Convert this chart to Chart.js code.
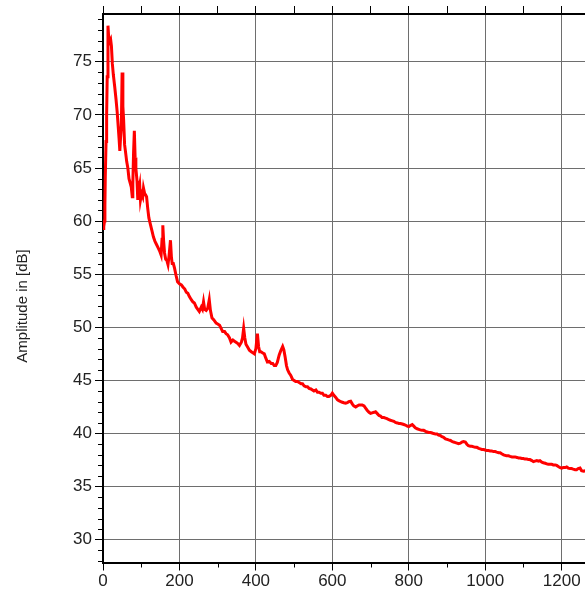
<!DOCTYPE html>
<html>
<head>
<meta charset="utf-8">
<script src="https://cdn.jsdelivr.net/npm/chart.js@4.4.1/dist/chart.umd.min.js"></script>
<style>
  html, body { margin: 0; padding: 0; background: #fff; overflow: hidden; }
  #wrap { width: 585px; height: 592px; position: relative; }
</style>
</head>
<body>
<div id="wrap"><canvas id="spectrum"></canvas></div>
<script>
// spectrum: frequency and amplitude in dB
var freq = [
  0, 2, 4, 5, 6, 8, 9.5, 11, 13, 15, 17.5, 20, 22, 24.5, 27, 30.5, 34, 37, 40, 42,
  44, 46, 48, 50, 52, 54, 56.5, 59, 62, 65, 68, 71, 74, 76.5, 78, 80, 82, 84, 86, 89,
  91, 94, 96, 98, 101, 104, 106, 109, 111, 114, 117, 120, 124, 128, 132, 136, 140, 144, 148, 152,
  154.5, 156.5, 158.5, 161, 164, 167, 170, 173, 176.5, 179, 181, 184, 187, 191, 195, 200, 205, 209, 214, 218,
  222, 226, 231, 235, 239, 244, 248, 252, 257, 260, 263, 266, 270, 274, 278, 281, 285, 290, 296, 301,
  305, 309, 313, 318, 322, 326, 331, 335, 340, 344, 348, 352, 357, 362, 365, 368, 371, 374, 379, 383,
  388, 392, 396, 400, 402, 404, 407, 410, 413, 417, 422, 426, 430, 435, 440, 444, 448, 452, 456, 461,
  465, 470, 473, 476.5, 480, 483, 487, 491, 496, 500, 504, 509, 513, 518, 522, 526, 531, 535, 539, 544,
  548, 552, 557, 561, 565, 570, 574, 578, 583, 587, 591, 596, 600, 604, 609, 613, 617, 622, 626, 630,
  635, 639, 643, 648, 652, 656, 661, 665, 670, 674, 678, 683, 687, 691, 696, 700, 704, 709, 713, 717,
  722, 726, 730, 735, 739, 743, 748, 752, 757, 761, 765, 770, 774, 778, 783, 787, 791, 796, 800, 804,
  809, 813, 817, 822, 826, 830, 835, 839, 844, 848, 852, 857, 861, 865, 870, 874, 878, 883, 887, 891,
  896, 900, 904, 909, 913, 917, 922, 926, 930, 935, 939, 943, 948, 952, 956, 961, 965, 970, 974, 978,
  983, 987, 991, 996, 1000, 1004, 1009, 1013, 1017, 1022, 1026, 1030, 1035, 1039, 1043, 1048, 1052, 1056, 1061, 1065,
  1070, 1074, 1078, 1083, 1087, 1091, 1096, 1100, 1104, 1109, 1113, 1117, 1122, 1126, 1130, 1135, 1139, 1143, 1148, 1152,
  1157, 1161, 1165, 1170, 1174, 1178, 1183, 1187, 1191, 1196, 1200, 1204, 1209, 1213, 1217, 1222, 1226, 1230, 1235, 1239,
  1243, 1248, 1252, 1257, 1262
];
var amplitude = [
  59.3, 59.5, 60.0, 61.5, 64.2, 67.5, 70.0, 73.6, 78.4, 77.2, 76.9, 77.1, 76.5, 74.8, 73.8, 72.7, 71.5, 70.3, 68.8, 67.8,
  66.6, 67.9, 69.0, 74.0, 70.8, 69.5, 67.2, 66.5, 65.6, 65.0, 64.0, 63.6, 63.2, 62.3, 63.5, 66.5, 68.5, 66.0, 65.0, 63.8,
  62.0, 63.0, 63.4, 62.0, 62.6, 62.3, 63.1, 62.6, 62.5, 62.3, 61.2, 60.3, 59.7, 59.1, 58.5, 58.1, 57.8, 57.5, 57.2, 56.8,
  58.3, 59.6, 58.2, 57.0, 56.4, 56.3, 55.9, 56.8, 58.2, 56.6, 56.0, 56.0, 55.6, 54.9, 54.3, 54.1, 54.0, 53.8, 53.6, 53.3,
  53.2, 52.9, 52.6, 52.4, 52.3, 51.9, 51.7, 51.5, 51.9, 51.7, 52.4, 51.7, 51.6, 51.8, 52.6, 51.6, 50.9, 50.7, 50.4, 50.3,
  50.2, 49.9, 49.6, 49.6, 49.4, 49.3, 49.0, 48.6, 48.8, 48.7, 48.6, 48.5, 48.3, 48.6, 49.0, 49.9, 49.0, 48.4, 48.1, 47.85,
  47.7, 47.6, 47.5, 48.0, 48.7, 49.4, 48.2, 47.7, 47.7, 47.6, 47.5, 47.1, 46.75, 46.8, 46.6, 46.6, 46.4, 46.4, 46.7, 47.4,
  47.8, 48.2, 47.9, 47.2, 46.4, 46.0, 45.7, 45.5, 45.1, 45.0, 44.9, 44.9, 44.8, 44.7, 44.7, 44.5, 44.4, 44.4, 44.25, 44.2,
  44.1, 44.0, 44.1, 43.9, 43.9, 43.8, 43.8, 43.6, 43.6, 43.5, 43.5, 43.6, 43.8, 43.6, 43.4, 43.2, 43.1, 43.0, 42.95, 42.9,
  42.85, 42.9, 43.0, 43.05, 42.8, 42.6, 42.5, 42.6, 42.7, 42.7, 42.7, 42.6, 42.4, 42.2, 42.0, 41.9, 41.95, 42.0, 42.05, 41.9,
  41.7, 41.65, 41.5, 41.5, 41.45, 41.4, 41.3, 41.25, 41.2, 41.15, 41.05, 41.0, 40.95, 40.95, 40.9, 40.85, 40.8, 40.7, 40.65, 40.75,
  40.85, 40.7, 40.55, 40.45, 40.4, 40.35, 40.3, 40.3, 40.2, 40.15, 40.1, 40.1, 40.05, 40.0, 39.95, 39.95, 39.85, 39.8, 39.7, 39.65,
  39.5, 39.45, 39.4, 39.35, 39.25, 39.2, 39.15, 39.1, 39.05, 39.1, 39.2, 39.25, 39.2, 39.0, 38.85, 38.8, 38.8, 38.75, 38.7, 38.7,
  38.6, 38.55, 38.5, 38.5, 38.45, 38.4, 38.4, 38.35, 38.35, 38.3, 38.3, 38.25, 38.2, 38.2, 38.1, 38.0, 37.95, 37.9, 37.9, 37.85,
  37.8, 37.8, 37.8, 37.75, 37.7, 37.7, 37.65, 37.65, 37.6, 37.6, 37.55, 37.55, 37.45, 37.35, 37.4, 37.45, 37.4, 37.45, 37.3, 37.25,
  37.2, 37.15, 37.1, 37.1, 37.1, 37.05, 37.05, 37.0, 36.9, 36.8, 36.75, 36.8, 36.8, 36.85, 36.75, 36.7, 36.7, 36.65, 36.6, 36.6,
  36.7, 36.75, 36.5, 36.45, 36.5
];
var xMajor = 200, xMinor = 100;
var yMajor = 5, yMinor = 1;
var yTitle = 'Amplitude in [dB]';

var points = freq.map(function (f, i) { return { x: f, y: amplitude[i] }; });

var tickFont = { family: 'Liberation Sans, Arial, sans-serif', size: 17 };
var gridGray = '#6e6e6e';

// short minor ticks + rotated axis title
var extras = {
  id: 'extras',
  afterDraw: function (chart) {
    var c = chart.ctx, xs = chart.scales.x, ys = chart.scales.y;
    c.save();
    c.strokeStyle = '#000';
    c.lineWidth = 1;
    c.beginPath();
    xs.ticks.forEach(function (t) {
      if (t.value % xMajor === 0) return;
      var px = Math.round(xs.getPixelForValue(t.value)) + 0.5;
      c.moveTo(px, xs.top);
      c.lineTo(px, xs.top + 5);
    });
    ys.ticks.forEach(function (t) {
      if (t.value % yMajor === 0) return;
      var py = Math.round(ys.getPixelForValue(t.value)) + 0.5;
      c.moveTo(ys.right - 5, py);
      c.lineTo(ys.right, py);
    });
    c.stroke();
    c.translate(23, 306);
    c.rotate(-Math.PI / 2);
    c.fillStyle = '#222';
    c.font = '15px "Liberation Sans", Arial, sans-serif';
    c.textAlign = 'center';
    c.textBaseline = 'middle';
    c.fillText(yTitle, 0, 0);
    c.restore();
  }
};

var ctx = document.getElementById('spectrum').getContext('2d');
new Chart(ctx, {
  type: 'line',
  data: {
    datasets: [{
      data: points,
      borderColor: '#ff0000',
      borderWidth: 3,
      pointRadius: 0,
      tension: 0,
      xAxisID: 'x',
      yAxisID: 'y'
    }]
  },
  options: {
    responsive: true,
    maintainAspectRatio: false,
    animation: false,
    layout: { padding: 0 },
    plugins: { legend: { display: false }, tooltip: { enabled: false } },
    scales: {
      x: {
        type: 'linear',
        position: 'bottom',
        min: 0,
        max: 1261,
        afterFit: function (s) { s.height = 29.5; },
        ticks: {
          stepSize: xMinor,
          includeBounds: false,
          autoSkip: false,
          maxRotation: 0,
          padding: 1,
          color: '#222',
          font: tickFont,
          callback: function (v) { return v % xMajor === 0 ? v : ''; }
        },
        grid: {
          color: function (c) { return c.tick && c.tick.value % xMajor === 0 ? gridGray : 'rgba(0,0,0,0)'; },
          tickColor: function (c) { return c.tick && c.tick.value % xMajor === 0 ? '#000' : 'rgba(0,0,0,0)'; },
          tickLength: 8,
          lineWidth: 1
        },
        border: { color: '#000', width: 2 }
      },
      x2: {
        type: 'linear',
        position: 'top',
        min: 0,
        max: 1261,
        afterFit: function (s) { s.height = 14; },
        ticks: { stepSize: xMinor, includeBounds: false, display: false },
        grid: { drawOnChartArea: false, tickLength: 8, tickColor: '#000' },
        border: { color: '#000', width: 2 }
      },
      y: {
        type: 'linear',
        position: 'left',
        min: 27.86,
        max: 79.5,
        afterFit: function (s) { s.width = 103; },
        ticks: {
          stepSize: yMinor,
          includeBounds: false,
          autoSkip: false,
          padding: 3,
          color: '#222',
          font: tickFont,
          callback: function (v) { return v % yMajor === 0 ? v : ''; }
        },
        grid: {
          color: function (c) { return c.tick && c.tick.value % yMajor === 0 ? gridGray : 'rgba(0,0,0,0)'; },
          tickColor: function (c) { return c.tick && c.tick.value % yMajor === 0 ? '#000' : 'rgba(0,0,0,0)'; },
          tickLength: 8,
          lineWidth: 1
        },
        border: { color: '#000', width: 2 }
      }
    }
  },
  plugins: [extras]
});
</script>
</body>
</html>
